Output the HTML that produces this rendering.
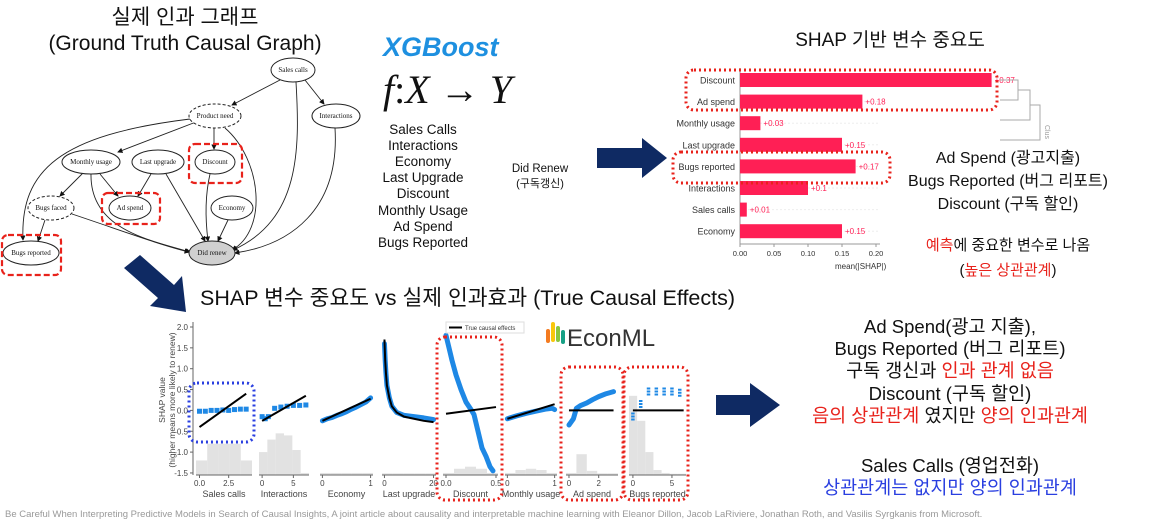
<!DOCTYPE html>
<html><head><meta charset="utf-8">
<style>
html,body{margin:0;padding:0;background:#fff;}
body{width:1162px;height:522px;overflow:hidden;font-family:"Liberation Sans","Noto Sans CJK KR",sans-serif;}
svg{display:block}
text{font-family:"Liberation Sans","Noto Sans CJK KR",sans-serif;}
.serif{font-family:"Liberation Serif","Noto Serif CJK SC",serif;}
</style></head>
<body>
<svg id="root" width="1162" height="522" viewBox="0 0 1162 522">
<defs>
<marker id="ah" markerWidth="6" markerHeight="6" refX="5" refY="3" orient="auto"><path d="M0,0 L6,3 L0,6 z" fill="#111"/></marker>
</defs>

<!-- causal graph -->
<g>
<text x="185" y="24" text-anchor="middle" font-size="21" fill="#111">실제 인과 그래프</text>
<text x="185" y="50" text-anchor="middle" font-size="21" fill="#111">(Ground Truth Causal Graph)</text>
<g stroke="#222" stroke-width="0.9" fill="none" marker-end="url(#ah)">
<path d="M280,80 L232,105"/>
<path d="M305,80 L324,104"/>
<path d="M296,82 C300,150 300,220 233,250"/>
<path d="M196,122 L118,152"/>
<path d="M190,119 C60,135 20,170 23,240"/>
<path d="M214,128 L214,149"/>
<path d="M225,128 C262,160 268,230 232,250"/>
<path d="M83,173 L60,196"/>
<path d="M100,174 L118,196"/>
<path d="M91,174 C90,230 150,240 190,252"/>
<path d="M151,174 L138,196"/>
<path d="M166,174 L205,241"/>
<path d="M210,174 C204,200 206,225 208,241"/>
<path d="M228,220 L218,241"/>
<path d="M45,220 L38,241"/>
<path d="M72,214 C120,230 160,245 189,252"/>
<path d="M335,128 C340,210 290,245 235,253"/>
</g>
<g font-size="7" text-anchor="middle" fill="#111" class="serif">
<g><ellipse cx="293" cy="70" rx="22" ry="12" fill="#fff" stroke="#222"/><text x="293" y="72" class="serif">Sales calls</text></g>
<g><ellipse cx="215" cy="116" rx="26" ry="12" fill="#fff" stroke="#222" stroke-dasharray="3,2"/><text x="215" y="118" class="serif">Product need</text></g>
<g><ellipse cx="336" cy="116" rx="24" ry="12" fill="#fff" stroke="#222"/><text x="336" y="118" class="serif">Interactions</text></g>
<g><ellipse cx="91" cy="162" rx="29" ry="12" fill="#fff" stroke="#222"/><text x="91" y="164" class="serif">Monthly usage</text></g>
<g><ellipse cx="158" cy="162" rx="26" ry="12" fill="#fff" stroke="#222"/><text x="158" y="164" class="serif">Last upgrade</text></g>
<g><ellipse cx="215" cy="162" rx="20" ry="12" fill="#fff" stroke="#222"/><text x="215" y="164" class="serif">Discount</text></g>
<g><ellipse cx="51" cy="208" rx="23" ry="12" fill="#fff" stroke="#222" stroke-dasharray="3,2"/><text x="51" y="210" class="serif">Bugs faced</text></g>
<g><ellipse cx="130" cy="208" rx="21" ry="12" fill="#fff" stroke="#222"/><text x="130" y="210" class="serif">Ad spend</text></g>
<g><ellipse cx="232" cy="208" rx="21" ry="12" fill="#fff" stroke="#222"/><text x="232" y="210" class="serif">Economy</text></g>
<g><ellipse cx="212" cy="253" rx="23" ry="12" fill="#d0d0d0" stroke="#222"/><text x="212" y="255" class="serif">Did renew</text></g>
<g><ellipse cx="31" cy="253" rx="28" ry="12" fill="#fff" stroke="#222"/><text x="31" y="255" class="serif">Bugs reported</text></g>
</g>
<g fill="none" stroke="#e8221b" stroke-width="2.2" stroke-dasharray="6,3">
<rect x="189" y="144" width="53" height="39" rx="6"/>
<rect x="102" y="193" width="58" height="31" rx="6"/>
<rect x="2" y="235" width="59" height="40" rx="6"/>
</g>
</g>

<!-- XGBoost block -->
<text x="383" y="56" font-size="27" font-weight="bold" font-style="italic" fill="#1e90e0">XGBoost</text>
<text x="383" y="103" font-size="40" font-style="italic" class="serif" fill="#111">f<tspan font-style="normal">:</tspan>X <tspan font-style="normal">→</tspan> Y</text>
<g font-size="13.5" text-anchor="middle" fill="#111">
<text x="423" y="134">Sales Calls</text><text x="423" y="150">Interactions</text><text x="423" y="166">Economy</text><text x="423" y="182">Last Upgrade</text><text x="423" y="198">Discount</text><text x="423" y="215">Monthly Usage</text><text x="423" y="231">Ad Spend</text><text x="423" y="247">Bugs Reported</text>
</g>
<text x="540" y="172" text-anchor="middle" font-size="11.5" fill="#111">Did Renew</text>
<text x="540" y="187" text-anchor="middle" font-size="11" fill="#111">(구독갱신)</text>
<path d="M597,148 L642,148 L642,138 L667,158 L642,178 L642,168 L597,168 Z" fill="#0f2a63"/>

<!-- SHAP importance -->
<text x="890" y="46" text-anchor="middle" font-size="19" fill="#111">SHAP 기반 변수 중요도</text>
<g id="barchart"></g>
<g stroke="#aaa" fill="none" stroke-width="1">
<path d="M1000,80 L1018,80 L1018,100 L1000,100 M1018,90 L1030,90 L1030,120 L1000,120 M1030,105 L1040,105 L1040,140 L1000,140"/>
</g>
<text x="1045" y="125" font-size="7" fill="#999" transform="rotate(90 1045 125)">Clus</text>
<g fill="none" stroke="#e8221b" stroke-width="3" stroke-dasharray="2,3">
<rect x="686" y="70" width="311" height="40" rx="8"/>
<rect x="673" y="152" width="217" height="31" rx="8"/>
</g>
<g font-size="16" text-anchor="middle" fill="#111">
<text x="1008" y="163">Ad Spend (광고지출)</text>
<text x="1008" y="186">Bugs Reported (버그 리포트)</text>
<text x="1008" y="209">Discount (구독 할인)</text>
</g>
<text x="1008" y="250" text-anchor="middle" font-size="15" fill="#111"><tspan fill="#e8221b">예측</tspan>에 중요한 변수로 나옴</text>
<text x="1008" y="275" text-anchor="middle" font-size="15" fill="#111">(<tspan fill="#e8221b">높은 상관관계</tspan>)</text>

<!-- diagonal arrow -->
<path d="M140,255 L174,285 L182,276 L186,312 L150,306 L158,298 L124,268 Z" fill="#0f2a63"/>
<text x="200" y="305" font-size="21.5" fill="#111">SHAP 변수 중요도 vs 실제 인과효과 (True Causal Effects)</text>

<!-- dependence chart -->
<g id="depchart"></g>

<!-- EconML logo -->
<g>
<rect x="546" y="329" width="4" height="14" rx="2" fill="#f47b20"/>
<rect x="551" y="322" width="4" height="20" rx="2" fill="#f9c70c"/>
<rect x="556" y="326" width="4" height="16" rx="2" fill="#8cc63f"/>
<rect x="561" y="330" width="4" height="14" rx="2" fill="#16a085"/>
<text x="567" y="346" font-size="24" fill="#333">EconML</text>
</g>

<path d="M716,395 L750,395 L750,383 L780,405 L750,427 L750,415 L716,415 Z" fill="#0f2a63"/>
<g font-size="18.5" text-anchor="middle" fill="#111">
<text x="950" y="333">Ad Spend(광고 지출),</text>
<text x="950" y="355">Bugs Reported (버그 리포트)</text>
<text x="950" y="377">구독 갱신과 <tspan fill="#e8221b">인과 관계 없음</tspan></text>
<text x="950" y="400"> Discount (구독 할인)</text>
<text x="950" y="422"><tspan fill="#e8221b">음의 상관관계</tspan> 였지만 <tspan fill="#e8221b">양의 인과관계</tspan></text>
<text x="950" y="472">Sales Calls (영업전화)</text>
<text x="950" y="494" fill="#2a3fe0">상관관계는 없지만 양의 인과관계</text>
</g>
<text x="5" y="517" font-size="9.5" fill="#999">Be Careful When Interpreting Predictive Models in Search of Causal Insights, A joint article about causality and interpretable machine learning with Eleanor Dillon, Jacob LaRiviere, Jonathan Roth, and Vasilis Syrgkanis from Microsoft.</text>
</svg>

<script>
const NS='http://www.w3.org/2000/svg';
// ---- SHAP bar chart data ----
const barFeatures=['Discount','Ad spend','Monthly usage','Last upgrade','Bugs reported','Interactions','Sales calls','Economy'];
const barValues=[0.37,0.18,0.03,0.15,0.17,0.1,0.01,0.15];
const barTicks=[0,0.05,0.10,0.15,0.20];
const barTickLabels=['0.00','0.05','0.10','0.15','0.20'];

// ---- dependence chart data ----
const depNames=['Sales calls','Interactions','Economy','Last upgrade','Discount','Monthly usage','Ad spend','Bugs reported'];
const depDomains=[[-0.3,4.5],[-0.5,7.5],[-0.05,1.05],[-1,21],[-0.03,0.52],[-0.05,1.05],[-0.2,3.3],[-0.5,6.8]];
const depTickVals=[[0,2.5],[0,5],[0,1],[0,20],[0,0.5],[0,1],[0,2],[0,5]];
const depTickLabels=[['0.0','2.5'],['0','5'],['0','1'],['0','20'],['0.0','0.5'],['0','1'],['0','2'],['0','5']];
const shapX=[[0,0.5,1,1.5,2,2.5,3,3.5,4],[0,0.5,1,2,3,4,5,6,7],[0,0.1,0.2,0.3,0.4,0.5,0.6,0.7,0.8,0.9,1],[0,0.3,0.6,1,2,3,5,8,12,16,20],[0,0.01,0.03,0.06,0.1,0.15,0.2,0.25,0.28,0.32,0.36,0.4,0.44,0.47],[0,0.2,0.4,0.6,0.8,0.95,1],[0,0.1,0.3,0.5,0.8,1.2,1.6,2,2.5,3],[0,1,2,3,4,5,6]];
const shapY=[[-0.02,-0.02,0,0,0.01,0,0.02,0.03,0.03],[-0.15,-0.2,-0.15,0.05,0.08,0.1,0.12,0.12,0.13],[-0.25,-0.2,-0.17,-0.12,-0.08,-0.03,0.03,0.08,0.14,0.2,0.3],[1.6,1.2,0.9,0.6,0.3,0.1,-0.05,-0.12,-0.15,-0.18,-0.22],[1.8,1.7,1.5,1.2,0.85,0.5,0.2,0.02,-0.1,-0.5,-0.9,-1.1,-1.35,-1.45],[-0.2,-0.13,-0.07,-0.02,0.03,0.05,0.02],[-0.35,-0.3,-0.2,0.05,0.12,0.18,0.26,0.33,0.4,0.45],[-0.15,0.15,0.45,0.45,0.45,0.45,0.42]];
const causalX=[[0,4],[0,7],[0,1],[0,0.3,0.6,1,2,3,5,8,12,16,20],[0,0.5],[0,1],[0,3],[0,6.5]];
const causalY=[[-0.4,0.4],[-0.25,0.35],[-0.25,0.28],[1.7,1.2,0.9,0.6,0.3,0.1,-0.05,-0.15,-0.2,-0.25,-0.28],[-0.08,0.08],[-0.2,0.15],[0,0],[0,0]];
const histHeights=[[0.35,0.75,0.75,0.75,0.35],[0.55,0.85,1.0,0.95,0.6,0.05],[0.05,0.05,0.05,0.05,0.05],[0.04,0.04,0.04,0.04,0.04],[0.05,0.15,0.2,0.15,0.05],[0.05,0.12,0.15,0.12,0.05],[0.05,0.5,0.1,0.04,0.04],[1.9,1.3,0.55,0.12,0.05,0.03,0.03]];
const yTickVals=[2.0,1.5,1.0,0.5,0.0,-0.5,-1.0,-1.5];
const yTickLabels=['2.0','1.5','1.0','0.5','0.0','-0.5','-1.0','-1.5'];

function mk(tag,attrs,parent){const e=document.createElementNS(NS,tag);for(const k in attrs)e.setAttribute(k,attrs[k]);parent.appendChild(e);return e;}

// bar chart
(function(){
 const g=document.getElementById('barchart');
 const x0=740, xs=v=>x0+v*680, rowY=i=>80+i*21.6;
 mk('line',{x1:x0,y1:68,x2:x0,y2:244,stroke:'#999','stroke-width':1},g);
 mk('line',{x1:x0,y1:244,x2:880,y2:244,stroke:'#999','stroke-width':1},g);
 barFeatures.forEach((f,i)=>{
  const y=rowY(i);
  mk('line',{x1:x0,y1:y,x2:880,y2:y,stroke:'#eee','stroke-dasharray':'2,2'},g);
  const r=mk('rect',{x:x0,y:y-7,width:xs(barValues[i])-x0,height:14,fill:'#ff1f55'},g);
  
  
  const t=mk('text',{x:735,y:y+3.5,'text-anchor':'end','font-size':9,fill:'#333'},g);t.textContent=f;
  
  
  const v=mk('text',{x:xs(barValues[i])+3,y:y+3,'font-size':8,fill:'#ff1f55'},g);v.textContent='+'+barValues[i];
  
  
 });
 barTicks.forEach((t,i)=>{
  mk('line',{x1:xs(t),y1:244,x2:xs(t),y2:247,stroke:'#999'},g);
  const tx=mk('text',{x:xs(t),y:256,'text-anchor':'middle','font-size':7.5,fill:'#333'},g);tx.textContent=barTickLabels[i];
  
  
 });
 const xl=mk('text',{x:835,y:269,'font-size':8,fill:'#333'},g);xl.textContent='mean(|SHAP|)';
 
 
})();

// dependence chart
(function(){
 const g=document.getElementById('depchart');
 const panelX=[[196,252],[259,309],[320,373],[382,436],[443,498],[505,557],[566,618],[629,686]];
 const ys=v=>410.4-v*41.7;
 const yBase=ys(-1.55);
 yTickVals.forEach((v,i)=>{
  mk('line',{x1:190,y1:ys(v),x2:193,y2:ys(v),stroke:'#666'},g);
  const t=mk('text',{x:188,y:ys(v)+3,'text-anchor':'end','font-size':8,fill:'#444'},g);t.textContent=yTickLabels[i];
  
  
 });
 mk('line',{x1:193,y1:322,x2:193,y2:yBase,stroke:'#666'},g);
 const yt=mk('text',{x:165,y:400,'text-anchor':'middle','font-size':8.5,fill:'#444',transform:'rotate(-90 165 400)'},g);yt.textContent='SHAP value';
 
 
 const yt2=mk('text',{x:175,y:400,'text-anchor':'middle','font-size':8.5,fill:'#444',transform:'rotate(-90 175 400)'},g);yt2.textContent='(higher means more likely to renew)';
 
 
 depNames.forEach((name,p)=>{
  const [a,b]=panelX[p],[d0,d1]=depDomains[p];
  const xs=v=>a+(v-d0)/(d1-d0)*(b-a);
  const pg=mk('g',{},g);
  
  
  const hh=histHeights[p],bw=(b-a)/hh.length;
  hh.forEach((h,i)=>{
   const r=mk('rect',{x:a+i*bw,y:ys(-1.55+h),width:bw,height:ys(-1.55)-ys(-1.55+h),fill:'#e2e2e2'},pg);
   
   
  });
  mk('line',{x1:a,y1:yBase,x2:b,y2:yBase,stroke:'#666'},pg);
  depTickVals[p].forEach((tv,i)=>{
   mk('line',{x1:xs(tv),y1:yBase,x2:xs(tv),y2:yBase+3,stroke:'#666'},pg);
   const t=mk('text',{x:xs(tv),y:yBase+11,'text-anchor':'middle','font-size':8,fill:'#444'},pg);t.textContent=depTickLabels[p][i];
   
   
  });
  const xl=mk('text',{x:(a+b)/2,y:yBase+22,'text-anchor':'middle','font-size':9,fill:'#444'},pg);xl.textContent=name;
  
  
  const sx=shapX[p],sy=shapY[p];
  if(p===0||p===1){
   sx.forEach((v,i)=>{const c=mk('rect',{x:xs(v)-2.5,y:ys(sy[i])-2.5,width:5,height:5,fill:'#1e88e5'},pg);
    
    });
  } else if(p===7){
   sx.forEach((v,i)=>{const c=mk('line',{x1:xs(v),y1:ys(sy[i]+0.1),x2:xs(v),y2:ys(sy[i]-0.1),stroke:'#1e88e5','stroke-width':3.5,'stroke-dasharray':'2,1'},pg);
    
    });
  } else {
   const pts=sx.map((v,i)=>xs(v)+','+ys(sy[i])).join(' ');
   const pl=mk('polyline',{points:pts,fill:'none',stroke:'#1e88e5','stroke-width':5,'stroke-linejoin':'round','stroke-linecap':'round'},pg);
   
   
  }
  const cpts=causalX[p].map((v,i)=>xs(v)+','+ys(causalY[p][i])).join(' ');
  const cl=mk('polyline',{points:cpts,fill:'none',stroke:'#000','stroke-width':2},pg);
  
  
 });
 const lg=mk('g',{},g);
 
 
 mk('rect',{x:446,y:322,width:78,height:11,fill:'#fff',stroke:'#ddd'},lg);
 mk('line',{x1:449,y1:327.5,x2:462,y2:327.5,stroke:'#000','stroke-width':2},lg);
 const lt=mk('text',{x:465,y:330,'font-size':6,fill:'#333'},lg);lt.textContent='True causal effects';
 
 
 const hb=[[189,383,65,59,'#2a3fe0','highlight-sales-calls'],[437,337,65,163,'#e8221b','highlight-discount'],[561,367,62,133,'#e8221b','highlight-ad-spend'],[624,367,64,133,'#e8221b','highlight-bugs-reported']];
 hb.forEach(h=>{const r=mk('rect',{x:h[0],y:h[1],width:h[2],height:h[3],rx:8,fill:'none',stroke:h[4],'stroke-width':3,'stroke-dasharray':'2,3'},g);
  
  });
})();
</script>
</body></html>
